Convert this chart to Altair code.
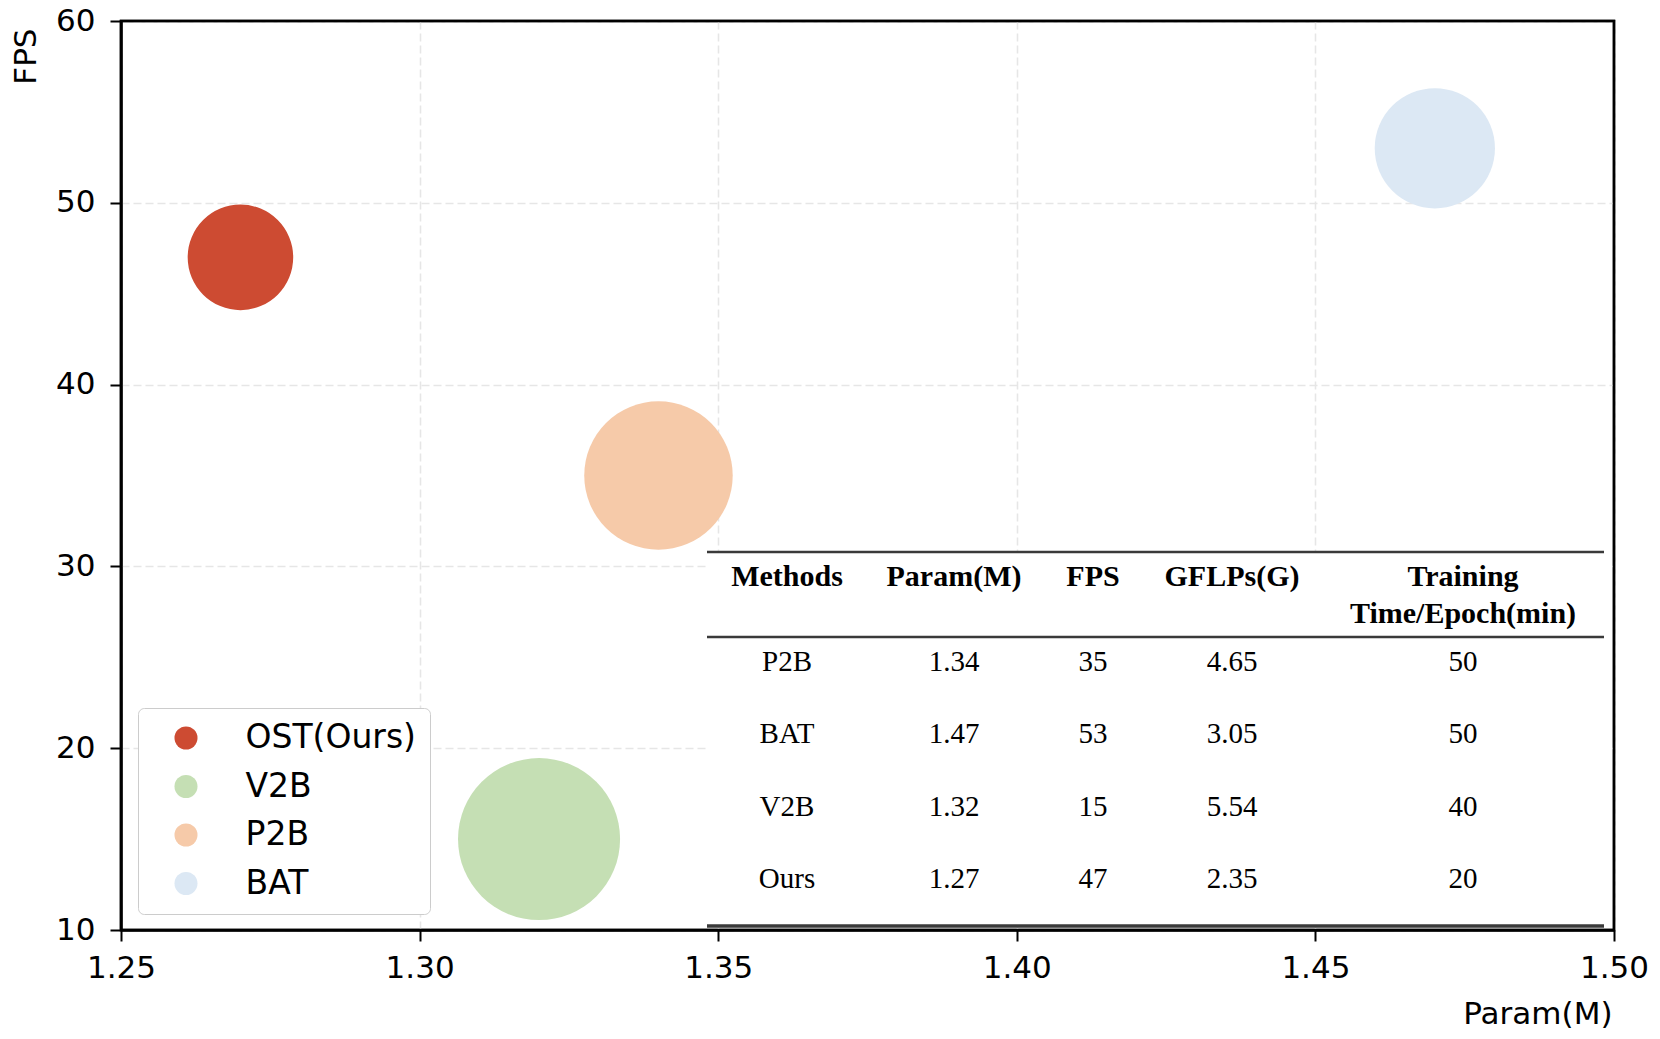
import altair as alt
import pandas as pd

# ---- bubble data ----
methods = ["OST(Ours)", "V2B", "P2B", "BAT"]
params = [1.27, 1.32, 1.34, 1.47]
fps = [47, 15, 35, 53]
gflops = [2.35, 5.54, 4.65, 3.05]
colors = ["#cd4b32", "#c5dfb4", "#f6caa9", "#dce8f4"]

x_ticks = [1.25, 1.30, 1.35, 1.40, 1.45, 1.50]
y_ticks = [10, 20, 30, 40, 50, 60]

# ---- inset table data ----
table_header = ["Methods", "Param(M)", "FPS", "GFLPs(G)", "Training"]
table_header2 = ["", "", "", "", "Time/Epoch(min)"]
table_methods = ["P2B", "BAT", "V2B", "Ours"]
table_param = ["1.34", "1.47", "1.32", "1.27"]
table_fps = ["35", "53", "15", "47"]
table_gflops = ["4.65", "3.05", "5.54", "2.35"]
table_time = ["50", "50", "40", "20"]

# ---- layout (pixels, relative to the plot area) ----
W, H = 1493, 909
col_x = [666, 833, 972, 1111, 1342]
header_y = [556, 593]
row_y = [641, 713, 786, 858]
rule_y = [531, 616, 905]
tab_x0, tab_x1 = 586, 1483

df = pd.DataFrame({"method": methods, "param": params, "fps": fps, "gflops": gflops})

bubbles = alt.Chart(df).mark_circle(opacity=1).encode(
    x=alt.X("param:Q",
            scale=alt.Scale(domain=[1.25, 1.50], nice=False, zero=False),
            axis=alt.Axis(values=x_ticks, format=".2f", title="Param(M)",
                          labelFontSize=31, tickSize=11, tickWidth=2, domainWidth=2.5,
                          labelPadding=12.5, labelFlush=False, labelOverlap=False,
                          titleFontSize=31, titleX=1491, titleY=93, titleAlign="right",
                          titleBaseline="alphabetic", titleAnchor="end")),
    y=alt.Y("fps:Q",
            scale=alt.Scale(domain=[10, 60], nice=False, zero=False),
            axis=alt.Axis(values=y_ticks, title="FPS",
                          labelFontSize=31, tickSize=11, tickWidth=2, domainWidth=2.5,
                          labelPadding=15, labelFlush=False, labelOverlap=False,
                          titleFontSize=31, titleX=-95, titleY=7, titleAlign="right",
                          titleBaseline="middle", titleAngle=270)),
    size=alt.Size("gflops:Q", scale=alt.Scale(domain=[0, 6], range=[0, 28440]), legend=None),
    color=alt.Color("method:N", sort=methods,
                    scale=alt.Scale(domain=methods, range=colors),
                    legend=alt.Legend(orient="none", legendX=17, legendY=687, title=None,
                                      padding=13.5, strokeColor="#cccccc", fillColor="white",
                                      cornerRadius=6, symbolSize=530, symbolType="circle",
                                      symbolStrokeWidth=0, labelFontSize=33,
                                      labelFont="DejaVu Sans", labelColor="black",
                                      rowPadding=14.5, symbolOffset=18, labelOffset=43,
                                      labelLimit=0)),
)

# table background
bg_df = pd.DataFrame({"x0": [tab_x0], "x1": [tab_x1 + 8], "y0": [rule_y[0]], "y1": [rule_y[2]]})
table_bg = alt.Chart(bg_df).mark_rect(color="white").encode(
    x=alt.X("x0:Q", scale=None, axis=None), x2="x1:Q",
    y=alt.Y("y0:Q", scale=None, axis=None), y2="y1:Q",
)

rules_df = pd.DataFrame({"ry": rule_y, "w": [2.5, 2.5, 3.5]})
table_rules = alt.Chart(rules_df).mark_rule(color="#3a3a3a").encode(
    x=alt.value(tab_x0), x2=alt.value(tab_x1),
    y=alt.Y("ry:Q", scale=None, axis=None),
    strokeWidth=alt.StrokeWidth("w:Q", scale=None, legend=None),
)

head_rows = []
for i in range(len(table_header)):
    head_rows.append({"t": table_header[i], "px": col_x[i], "py": header_y[0]})
    if table_header2[i]:
        head_rows.append({"t": table_header2[i], "px": col_x[i], "py": header_y[1]})
head_df = pd.DataFrame(head_rows)

body_rows = []
cols = [table_methods, table_param, table_fps, table_gflops, table_time]
for r in range(len(table_methods)):
    for c in range(len(cols)):
        body_rows.append({"t": cols[c][r], "px": col_x[c], "py": row_y[r]})
body_df = pd.DataFrame(body_rows)

head_text = alt.Chart(head_df).mark_text(
    font="Liberation Serif", fontSize=30, fontWeight="bold", color="black",
    align="center", baseline="middle").encode(
    x=alt.X("px:Q", scale=None, axis=None),
    y=alt.Y("py:Q", scale=None, axis=None),
    text="t:N",
)
body_text = alt.Chart(body_df).mark_text(
    font="Liberation Serif", fontSize=29, color="black",
    align="center", baseline="middle").encode(
    x=alt.X("px:Q", scale=None, axis=None),
    y=alt.Y("py:Q", scale=None, axis=None),
    text="t:N",
)

# solid frame (spines) over the dashed edge grid lines
frame = alt.Chart(bg_df).mark_rect(filled=False, stroke="black", strokeWidth=2.5).encode(
    x=alt.value(0), x2=alt.value(W), y=alt.value(0), y2=alt.value(H),
)

chart = alt.layer(table_bg, bubbles, table_rules, head_text, body_text, frame).properties(
    width=W, height=H,
    autosize=alt.AutoSizeParams(type="none"),
    padding={"left": 113, "top": 13, "right": 37, "bottom": 100},
).configure_view(
    stroke="black", strokeWidth=2.5
).configure_axis(
    labelFont="DejaVu Sans", titleFont="DejaVu Sans", labelColor="black",
    titleColor="black", titleFontWeight="normal", domainColor="black",
    tickColor="black", gridColor="#e6e6e6", gridDash=[8, 4], gridWidth=1.6,
)

chart.save("out.html", embed_options={"renderer": "svg", "actions": False})
